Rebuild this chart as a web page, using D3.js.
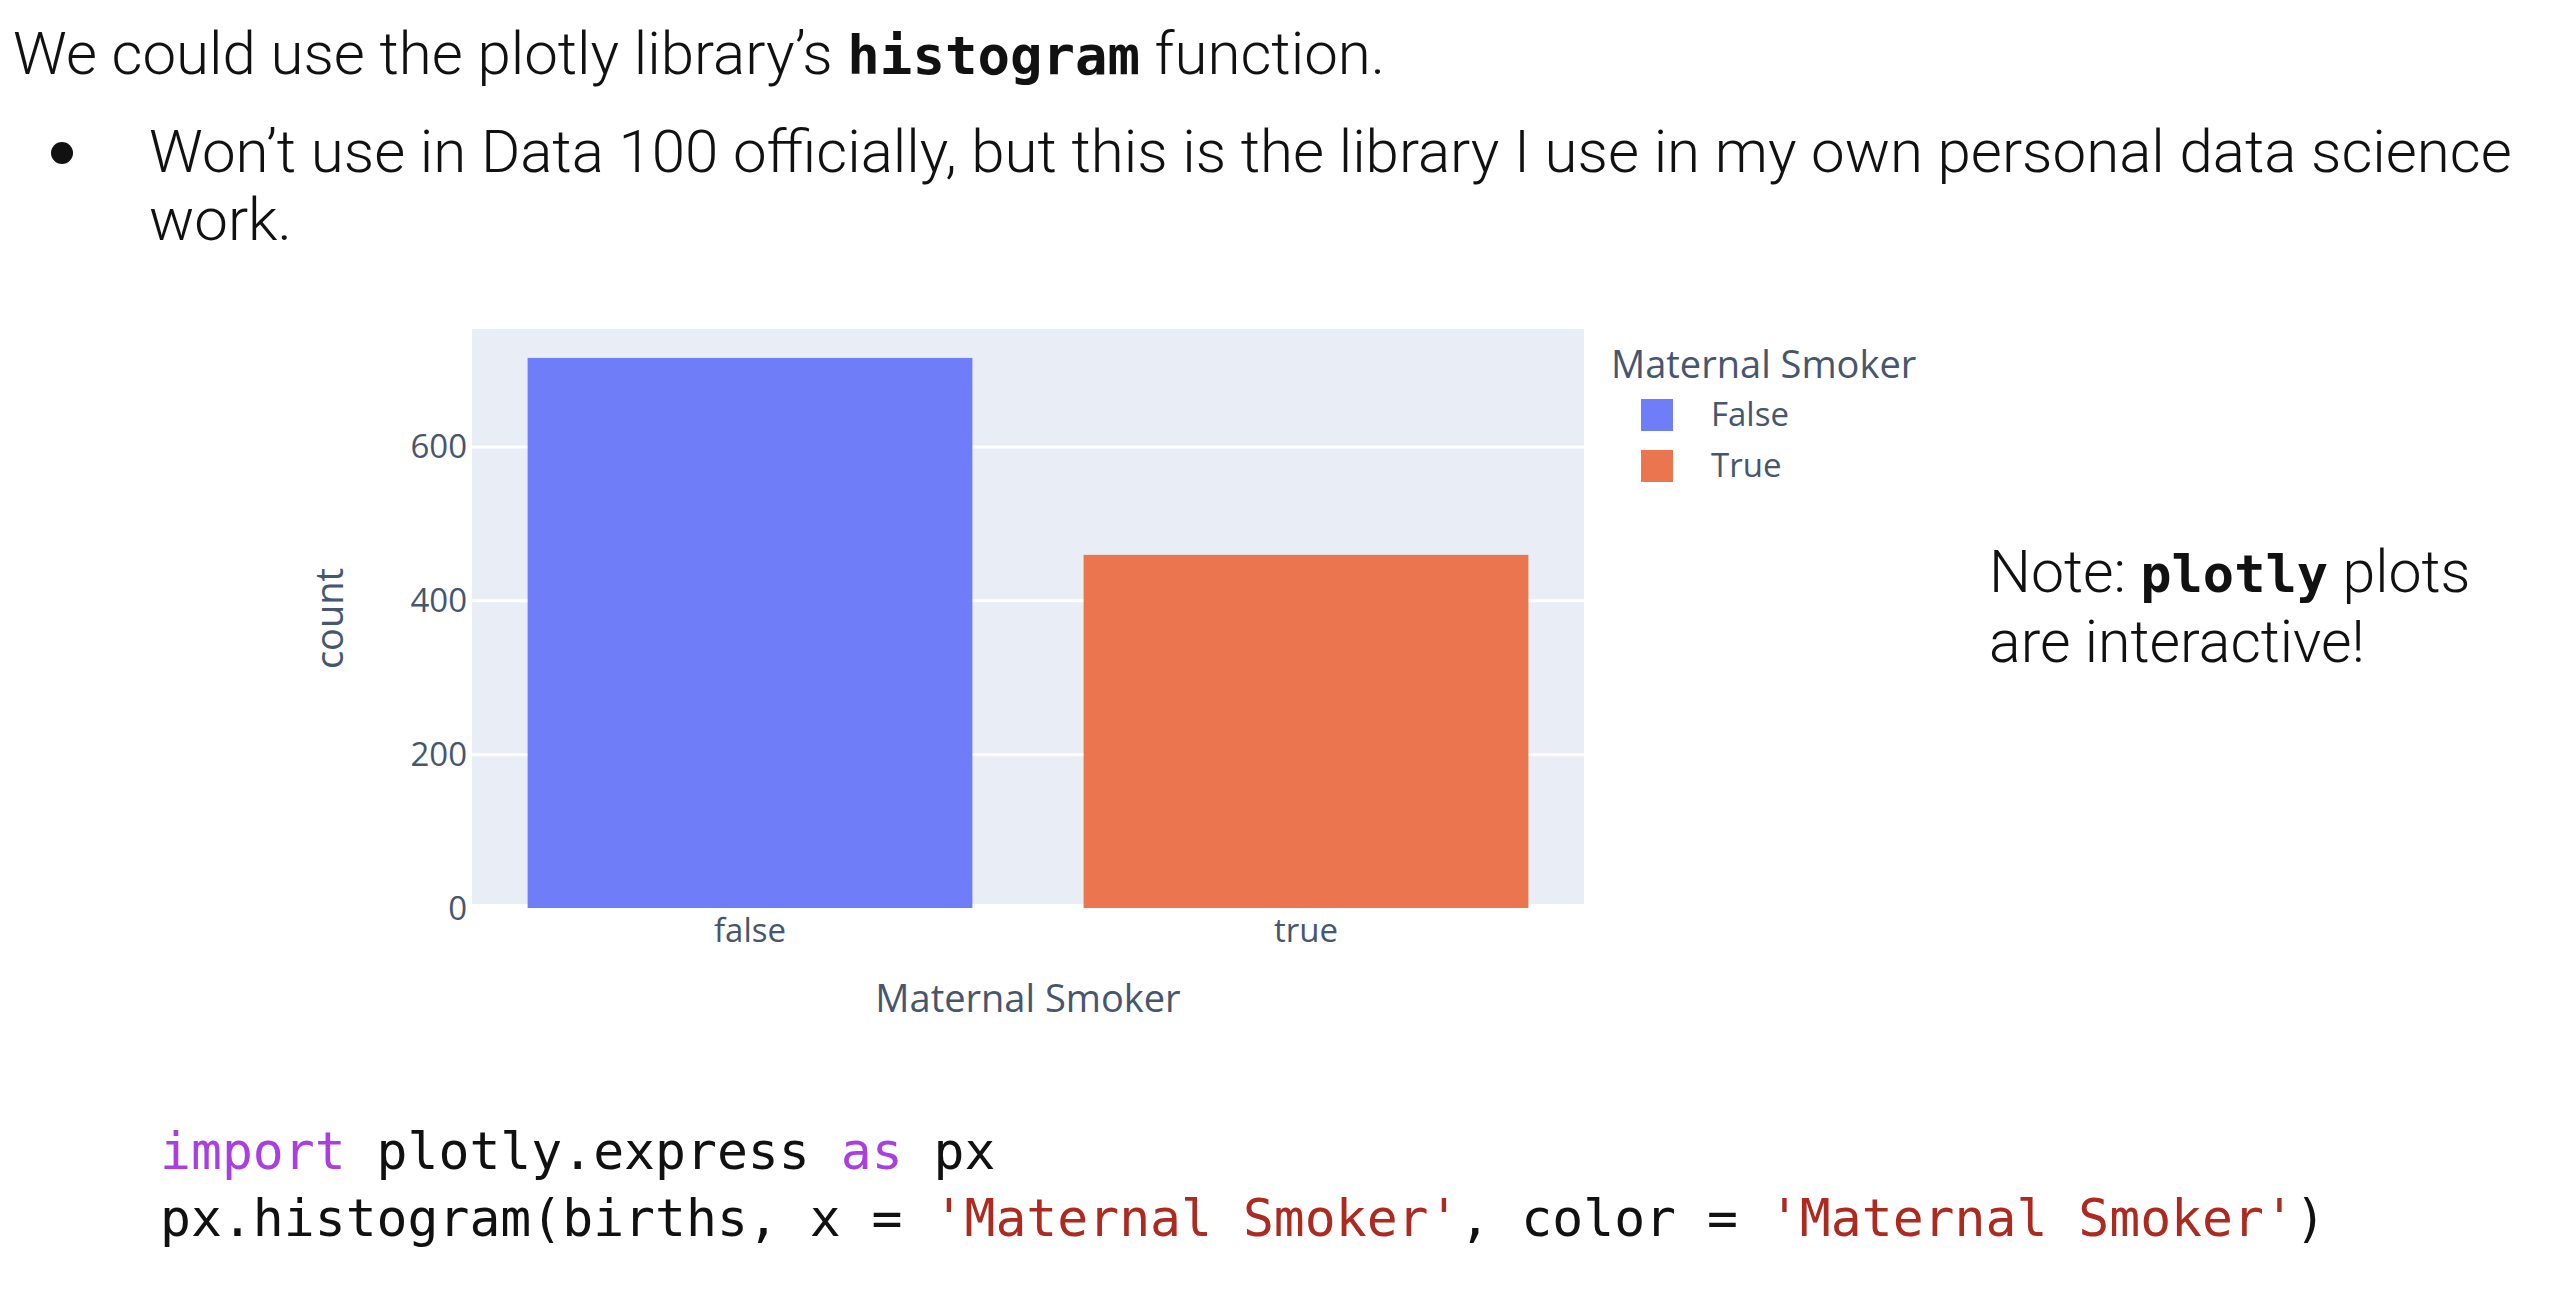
<!DOCTYPE html>
<html>
<head>
<meta charset="utf-8">
<script src="https://cdn.jsdelivr.net/npm/d3@7"></script>
<style>
  html, body { margin: 0; padding: 0; background: #ffffff; }
  svg { display: block; }
</style>
</head>
<body>
<svg id="chart" width="2564" height="1306"></svg>
<script>
// ---- data ----
const categories = ["false", "true"];
const counts = [715, 459];
const legendLabels = ["False", "True"];
const yTicks = [0, 200, 400, 600];
const xTitle = "Maternal Smoker";
const yTitle = "count";
const legendTitle = "Maternal Smoker";

// ---- styles ----
const colors = ["#6f7ef8", "#ea754e"];
const plotBg = "#e8edf6";
const axisText = "#46566e";
const plotFont = "'Open Sans', 'Noto Sans', sans-serif";
const slideFont = "Roboto, 'Noto Sans', sans-serif";
const monoFont = "'DejaVu Sans Mono', 'Liberation Mono', monospace";

const svg = d3.select("#chart");

// ---- slide text ----
const t1 = svg.append("text").attr("x", 13).attr("y", 74)
  .attr("font-family", slideFont).attr("font-weight", 300).attr("font-size", 60).attr("fill", "#111");
t1.append("tspan").text("We could use the plotly library’s ");
t1.append("tspan").attr("font-family", monoFont).attr("font-weight", 700).attr("font-size", 54).text("histogram");
t1.append("tspan").text(" function.");

svg.append("circle").attr("cx", 62).attr("cy", 153).attr("r", 11).attr("fill", "#111");
svg.append("text").attr("x", 149).attr("y", 172)
  .attr("font-family", slideFont).attr("font-weight", 300).attr("font-size", 60).attr("fill", "#111")
  .text("Won’t use in Data 100 officially, but this is the library I use in my own personal data science");
svg.append("text").attr("x", 149).attr("y", 240)
  .attr("font-family", slideFont).attr("font-weight", 300).attr("font-size", 60).attr("fill", "#111")
  .text("work.");

const n1 = svg.append("text").attr("x", 1989).attr("y", 592)
  .attr("font-family", slideFont).attr("font-weight", 300).attr("font-size", 59).attr("fill", "#111");
n1.append("tspan").text("Note: ");
n1.append("tspan").attr("font-family", monoFont).attr("font-weight", 700).attr("font-size", 52).text("plotly");
n1.append("tspan").text(" plots");
svg.append("text").attr("x", 1989).attr("y", 662)
  .attr("font-family", slideFont).attr("font-weight", 300).attr("font-size", 59).attr("fill", "#111")
  .text("are interactive!");

// ---- code ----
const codeKw = "#a93fe0", codeStr = "#ad2a20", codeTxt = "#111";
const c1 = svg.append("text").attr("x", 160).attr("y", 1169)
  .attr("font-family", monoFont).attr("font-size", 51.4).attr("fill", codeTxt).attr("xml:space", "preserve");
c1.append("tspan").attr("fill", codeKw).text("import");
c1.append("tspan").text(" plotly.express ");
c1.append("tspan").attr("fill", codeKw).text("as");
c1.append("tspan").text(" px");
const c2 = svg.append("text").attr("x", 160).attr("y", 1236)
  .attr("font-family", monoFont).attr("font-size", 51.4).attr("fill", codeTxt).attr("xml:space", "preserve");
c2.append("tspan").text("px.histogram(births, x = ");
c2.append("tspan").attr("fill", codeStr).text("'Maternal Smoker'");
c2.append("tspan").text(", color = ");
c2.append("tspan").attr("fill", codeStr).text("'Maternal Smoker'");
c2.append("tspan").text(")");

// ---- chart ----
const pL = 472, pR = 1584, pT = 329, pB = 908;
const x = d3.scaleBand().domain(categories).range([pL, pR]).paddingInner(0.2).paddingOuter(0.1);
const y = d3.scaleLinear().domain([0, d3.max(counts) * 1.0526]).range([pB, pT]);

svg.append("rect").attr("x", pL).attr("y", pT).attr("width", pR - pL).attr("height", pB - pT)
  .attr("fill", plotBg);

// gridlines via axis
const grid = svg.append("g").attr("transform", `translate(${pL},0)`)
  .call(d3.axisLeft(y).tickValues(yTicks.filter(v => v !== 0)).tickSize(-(pR - pL)).tickFormat(""));
grid.select(".domain").remove();
grid.selectAll("line").attr("stroke", "#ffffff").attr("stroke-width", 3);

// zero line
svg.append("line").attr("x1", pL).attr("x2", pR).attr("y1", y(0) - 1).attr("y2", y(0) - 1)
  .attr("stroke", "#ffffff").attr("stroke-width", 6);

// bars
svg.append("g").selectAll("rect").data(categories).join("rect")
  .attr("x", d => x(d)).attr("width", x.bandwidth())
  .attr("y", (d, i) => y(counts[i])).attr("height", (d, i) => y(0) - y(counts[i]))
  .attr("fill", (d, i) => colors[i]);

// y axis labels
const yAxis = svg.append("g").attr("transform", `translate(${pL - 5},0)`)
  .call(d3.axisLeft(y).tickValues(yTicks).tickSize(0).tickPadding(0).tickFormat(d3.format("d")));
yAxis.select(".domain").remove();
yAxis.selectAll("text").attr("font-family", plotFont).attr("font-size", 33).attr("fill", axisText)
  .attr("dy", "0.35em");

// x axis labels
const xAxis = svg.append("g").attr("transform", `translate(0,${pB})`)
  .call(d3.axisBottom(x).tickSize(0).tickPadding(0));
xAxis.select(".domain").remove();
xAxis.selectAll("text").attr("font-family", plotFont).attr("font-size", 33).attr("fill", axisText)
  .attr("dy", null).attr("y", 34);

// axis titles
svg.append("text").attr("transform", `translate(343,${(pT + pB) / 2}) rotate(-90)`)
  .attr("text-anchor", "middle").attr("font-family", plotFont).attr("font-size", 38).attr("fill", axisText)
  .text(yTitle);
svg.append("text").attr("x", (pL + pR) / 2).attr("y", 1012).attr("text-anchor", "middle")
  .attr("font-family", plotFont).attr("font-size", 38).attr("fill", axisText).text(xTitle);

// legend
const lg = svg.append("g");
lg.append("text").attr("x", 1611).attr("y", 378).attr("font-family", plotFont).attr("font-size", 38)
  .attr("fill", axisText).text(legendTitle);
const items = lg.selectAll("g.item").data(legendLabels).join("g").attr("class", "item")
  .attr("transform", (d, i) => `translate(1641,${415 + i * 51})`);
items.append("rect").attr("x", 0).attr("y", -16).attr("width", 32).attr("height", 32)
  .attr("fill", (d, i) => colors[i]);
items.append("text").attr("x", 70).attr("y", 11).attr("font-family", plotFont).attr("font-size", 33)
  .attr("fill", axisText).text(d => d);
</script>
</body>
</html>
